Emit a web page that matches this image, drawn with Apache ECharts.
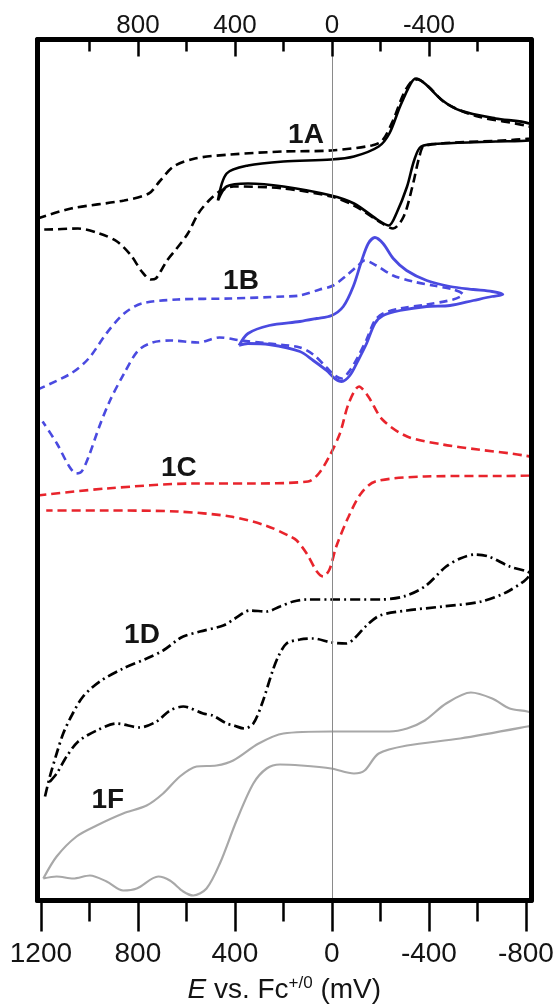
<!DOCTYPE html>
<html><head><meta charset="utf-8">
<script src="https://cdn.jsdelivr.net/npm/echarts@6/dist/echarts.min.js"></script>
<style>html,body{margin:0;padding:0;background:#fff}#c{width:556px;height:1004px}</style>
</head><body><div id="c"></div>
<script>
// ---- axis ticks (mV) ----
const xMajorTicks = [1200, 800, 400, 0, -400, -800];
const xMinorTicks = [1000, 600, 200, -200, -600];
const xTopLabels = [800, 400, 0, -400];
const xTopMinor = [1000, 600, 200, -200, -600];

// ---- 1A solid (E in mV, current in arbitrary units) ----
const a1SolidE = [470, 434, 346, 200, 3, -91, -193, -237, -281, -325, -347, -383, -456, -529, -675, -814, -840, -814, -675, -456, -368, -339, -310, -266, -235, -193, -91, 3, 200, 346, 434, 470];
const a1SolidI = [700, 727, 735, 739, 741, 744, 754, 767, 794, 817, 822, 817, 800, 790, 782, 777, 768, 760, 759, 757, 754, 740, 714, 687, 675, 680, 697, 705, 714, 717, 714, 700];
// ---- 1A dashed ----
const a1DashE = [1214, 1076, 857, 755, 711, 653, 565, 419, 200, 3, -164, -208, -252, -296, -332, -354, -398, -471, -602, -814, -840, -814, -383, -361, -332, -296, -252, -208, -91, 3, 200, 405, 463, 507, 551, 594, 640, 680, 704, 726, 747, 784, 828, 886, 959, 1047, 1178, 1207];
const a1DashI = [682, 692, 700, 707, 719, 734, 742, 746, 749, 750, 755, 760, 780, 807, 820, 821, 814, 797, 784, 774, 768, 762, 755, 744, 714, 684, 672, 677, 695, 704, 712, 714, 709, 700, 687, 667, 652, 640, 630, 622, 621, 629, 645, 659, 667, 672, 671, 671];
// ---- 1B solid ----
const b1SolidE = [383, 346, 259, 132, 63, 1, -47, -88, -123, -150, -177, -211, -253, -308, -391, -487, -583, -660, -705, -660, -583, -487, -391, -281, -211, -177, -143, -108, -74, -40, -12, 22, 77, 132, 259, 346, 383];
const b1SolidI = [555, 567, 575, 579, 582, 585, 594, 614, 640, 657, 663, 657, 642, 630, 620, 614, 611, 609, 606, 604, 600, 595, 594, 590, 585, 577, 557, 540, 525, 519, 522, 530, 540, 549, 556, 557, 555];
// ---- 1B dashed ----
const b1DashE = [1214, 1076, 1003, 930, 857, 784, 638, 419, 200, 132, 50, -5, -60, -108, -135, -183, -252, -334, -417, -500, -540, -500, -391, -281, -211, -177, -143, -108, -74, -40, -12, 22, 77, 132, 259, 375, 463, 551, 667, 740, 799, 857, 915, 959, 1003, 1032, 1054, 1083, 1134, 1193];
const b1DashI = [511, 527, 542, 567, 587, 597, 601, 602, 604, 605, 611, 615, 625, 635, 640, 635, 625, 619, 615, 611, 606, 601, 596, 592, 587, 580, 561, 544, 530, 522, 525, 533, 546, 553, 557, 560, 563, 558, 560, 558, 550, 527, 500, 474, 444, 429, 427, 434, 457, 479];
// ---- 1C dashed (red) ----
const c1E = [1214, 930, 565, 346, 98, 54, 11, -33, -69, -112, -150, -208, -310, -456, -602, -792, -840, -814, -383, -179, -120, -69, -18, 10, 36, 62, 104, 145, 171, 273, 419, 638, 930, 1178];
const c1I = [405, 412, 417, 417, 419, 427, 444, 467, 497, 514, 504, 481, 464, 456, 451, 445, 441, 425, 424, 419, 407, 384, 354, 331, 324, 329, 347, 360, 364, 375, 384, 389, 390, 390];
// ---- 1D dash-dot ----
const d1E = [1183, 1163, 1135, 1108, 1073, 1026, 957, 861, 764, 696, 640, 613, 544, 448, 400, 338, 269, 214, 159, 104, 1, -198, -296, -383, -471, -529, -588, -646, -733, -806, -816, -733, -617, -456, -310, -198, -143, -88, -61, 1, 77, 132, 187, 221, 244, 288, 324, 361, 405, 434, 492, 531, 613, 668, 723, 792, 888, 970, 1046, 1094, 1135, 1170];
const d1I = [104, 124, 147, 167, 185, 204, 219, 232, 242, 250, 260, 264, 269, 275, 282, 290, 289, 294, 299, 301, 301, 301, 304, 314, 334, 342, 346, 344, 334, 329, 327, 310, 299, 294, 290, 285, 275, 261, 257, 258, 262, 261, 257, 244, 230, 197, 177, 172, 175, 177, 185, 187, 194, 190, 179, 173, 177, 170, 159, 144, 127, 117];
// ---- 1F gray ----
const f1E = [1190, 1135, 1053, 970, 861, 764, 696, 627, 558, 476, 407, 302, 200, 3, -237, -310, -383, -471, -573, -661, -733, -806, -840, -840, -806, -529, -310, -193, -135, -91, 3, 127, 214, 269, 324, 393, 462, 517, 572, 613, 668, 716, 805, 861, 929, 998, 1067, 1135, 1190];
const f1I = [22, 44, 64, 75, 87, 95, 107, 124, 134, 135, 140, 157, 167, 169, 169, 172, 180, 197, 208, 202, 192, 189, 186, 176, 174, 162, 155, 147, 130, 127, 132, 135, 136, 132, 117, 80, 37, 12, 5, 9, 20, 24, 12, 10, 19, 25, 22, 24, 22];

// ---- curve labels ----
const curveLabels = ['1A', '1B', '1C', '1D', '1F'];
const curveLabelE = [107, 375, 631, 783, 924];
const curveLabelI = [765, 619, 432, 265, 100];

const FONT = 'Liberation Sans, Arial, sans-serif';
const TXT = '#141414';
const X_MIN = -821, X_MAX = 1214;
const zip = (xs, ys) => xs.map((x, i) => [x, ys[i]]);
const plain = v => String(v);

function xAx(extra) {
  return Object.assign({
    type: 'value', min: X_MIN, max: X_MAX, inverse: true, z: 10,
    splitLine: { show: false }, axisLine: { show: false, onZero: false },
    axisTick: { show: false }, axisLabel: { show: false }
  }, extra);
}
const tickStyle = { color: '#000', width: 2.5 };
const frameLine = { show: true, onZero: false, lineStyle: { color: '#000', width: 5 } };

function curve(data, color, width, type) {
  return {
    type: 'line', data: data, showSymbol: false, smooth: 0.3, clip: true,
    lineStyle: { color: color, width: width, type: type }, silent: true, z: 3
  };
}

const chart = echarts.init(document.getElementById('c'), null, { renderer: 'canvas' });
chart.setOption({
  animation: false,
  backgroundColor: '#fff',
  grid: { left: 37.5, top: 39.5, width: 493.5, height: 861, containLabel: false, outerBoundsMode: 'none' },
  xAxis: [
    xAx({
      position: 'bottom', axisLine: frameLine,
      axisTick: { show: true, customValues: xMajorTicks, length: 31, lineStyle: tickStyle },
      axisLabel: { show: true, customValues: xMajorTicks, formatter: plain, fontSize: 28, color: TXT, fontFamily: FONT, margin: 40 },
      name: '{i|E} vs. Fc{sup|+/0} (mV)', nameLocation: 'middle', nameGap: 74,
      nameTextStyle: {
        fontSize: 28, color: TXT, fontFamily: FONT,
        rich: {
          i: { fontStyle: 'italic', fontSize: 28, color: TXT, fontFamily: FONT },
          sup: { fontSize: 17, color: TXT, fontFamily: FONT, verticalAlign: 'top', padding: [0, 0, 14, 0] }
        }
      }
    }),
    xAx({
      position: 'bottom',
      axisTick: { show: true, customValues: xMinorTicks, length: 21, lineStyle: tickStyle }
    }),
    xAx({
      position: 'top', axisLine: frameLine,
      axisTick: { show: true, inside: true, customValues: xTopLabels, length: 17, lineStyle: tickStyle },
      axisLabel: { show: true, customValues: xTopLabels, formatter: plain, fontSize: 26, color: TXT, fontFamily: FONT, margin: 1 }
    }),
    xAx({
      position: 'top',
      axisTick: { show: true, inside: true, customValues: xTopMinor, length: 12, lineStyle: tickStyle }
    })
  ],
  yAxis: [
    { type: 'value', min: 0, max: 861, position: 'left', z: 10, axisLine: frameLine,
      axisTick: { show: false }, axisLabel: { show: false }, splitLine: { show: false } },
    { type: 'value', min: 0, max: 861, position: 'right', z: 10, axisLine: frameLine,
      axisTick: { show: false }, axisLabel: { show: false }, splitLine: { show: false } }
  ],
  series: [
    {
      type: 'line', data: [], z: 1, silent: true,
      markLine: {
        silent: true, symbol: ['none', 'none'], label: { show: false },
        lineStyle: { color: '#8a8a8a', width: 1, type: 'solid' },
        data: [{ xAxis: 0 }]
      }
    },
    curve(zip(a1DashE, a1DashI), '#000', 2.6, [9, 5]),
    curve(zip(a1SolidE, a1SolidI), '#000', 2.6, 'solid'),
    curve(zip(b1DashE, b1DashI), '#4a4ae0', 2.6, [8, 5]),
    curve(zip(b1SolidE, b1SolidI), '#4a4ae0', 2.8, 'solid'),
    curve(zip(c1E, c1I), '#e8242c', 2.6, [9, 5]),
    curve(zip(d1E, d1I), '#000', 2.7, [10, 4, 2, 4]),
    curve(zip(f1E, f1I), '#a8a8a8', 2.2, 'solid'),
    {
      type: 'scatter', symbolSize: 0, silent: true, z: 5,
      itemStyle: { opacity: 1 },
      data: curveLabels.map((n, i) => ({ name: n, value: [curveLabelE[i], curveLabelI[i]] })),
      label: { show: true, position: 'inside', formatter: p => p.name, opacity: 1,
        fontSize: 28, fontWeight: 'bold', color: TXT, fontFamily: FONT }
    }
  ]
});
</script>
</body></html>
